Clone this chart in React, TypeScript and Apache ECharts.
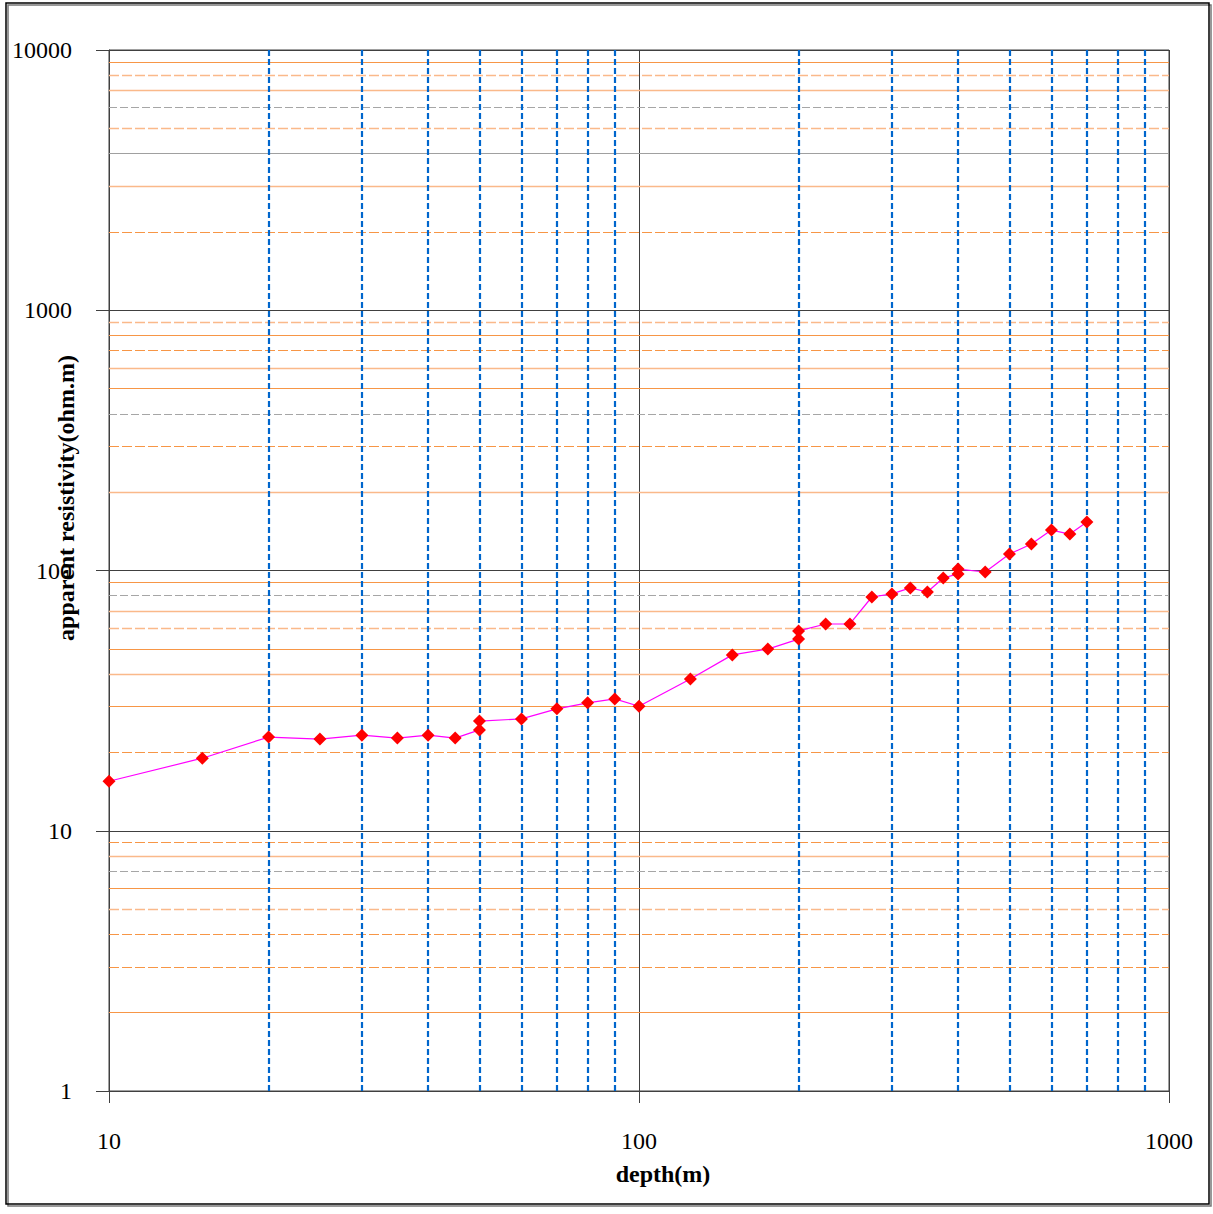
import React, { useEffect, useRef } from "react";
import * as echarts from "echarts";

const depths = [10, 15, 20, 25, 30, 35, 40, 45, 50, 50, 60, 70, 80, 90, 100, 125, 150, 175, 200, 200, 225, 250, 275, 300, 325, 350, 375, 400, 400, 450, 500, 550, 600, 650, 700];
const resistivity = [15.5, 19.0, 22.9, 22.5, 23.3, 22.7, 23.3, 22.7, 24.4, 26.4, 26.9, 29.4, 31.0, 32.1, 30.1, 38.3, 47.4, 49.9, 54.5, 58.6, 62.3, 62.3, 79.1, 81.3, 85.7, 82.7, 93.6, 97.0, 101.3, 98.7, 115.7, 126.4, 143.0, 138.0, 153.6];

const xMinorValues = [20, 30, 40, 50, 60, 70, 80, 90, 200, 300, 400, 500, 600, 700, 800, 900];
// minor horizontal lines: value and style kind
const yMinorValues = [
  9000, 8000, 7000, 6000, 5000, 4000, 3000, 2000,
  900, 800, 700, 600, 500, 400, 300, 200,
  90, 80, 70, 60, 50, 40, 30, 20,
  9, 8, 7, 6, 5, 4, 3, 2,
];
const yMinorKinds = [
  "solid", "dashLight", "solidLight", "dashGrey", "dashLight", "solidGrey", "solidLight", "dash",
  "dashLight", "solid", "dash", "solidLight", "solid", "dashGrey", "dash", "solidLight",
  "solid", "dashGrey", "solidLight", "dashLight", "solid", "solidLight", "solid", "dash",
  "dash", "solidLight", "dashGrey", "solid", "dashLight", "dash", "dash", "solid",
];
const xTickLabels = ["10", "100", "1000"];
const yTickLabels = ["1", "10", "100", "1000", "10000"];

const styleFor = (kind: string) => {
  switch (kind) {
    case "solid": return { color: "#F79646", type: "solid", width: 1 };
    case "solidLight": return { color: "#FAB98A", type: "solid", width: 1.3 };
    case "dash": return { color: "#F79646", type: [10, 3], width: 1 };
    case "dashLight": return { color: "#FAB98A", type: [10, 3], width: 1.3 };
    case "dashGrey": return { color: "#A6A6A6", type: [8, 3], width: 1 };
    case "solidGrey": return { color: "#A0A0A0", type: "solid", width: 1 };
    default: return { color: "#F79646", type: "solid", width: 1 };
  }
};

const FONT = "'Liberation Serif', 'Times New Roman', serif";

export default function App() {
  const ref = useRef<HTMLDivElement>(null);
  useEffect(() => {
    document.body.style.margin = "0";
    const chart = echarts.init(ref.current!, undefined, { renderer: "svg" });
    const hLines = yMinorValues.map((v, i) => ({ yAxis: v, lineStyle: styleFor(yMinorKinds[i]) }));
    const vLines = xMinorValues.map((v) => ({ xAxis: v, lineStyle: { color: "#0066CC", type: [6, 3], width: 2.2 } }));
    chart.setOption({
      animation: false,
      backgroundColor: "#fff",
      grid: { left: 109, top: 50, width: 1060, height: 1041, show: true, borderColor: "#404040", borderWidth: 1, backgroundColor: "transparent" },
      xAxis: {
        type: "log", logBase: 10, min: 10, max: 1000,
        axisLine: { show: true, lineStyle: { color: "#404040", width: 1 } },
        axisTick: { show: true, inside: false, length: 12, lineStyle: { color: "#404040" } },
        axisLabel: {
          margin: 38, fontFamily: FONT, fontSize: 24, color: "#000",
          formatter: (v: number) => xTickLabels.find((t) => Number(t) === Math.round(v)) ?? "",
        },
        splitLine: { show: true, lineStyle: { color: "#404040", width: 1 } },
        minorTick: { show: false }, minorSplitLine: { show: false },
      },
      yAxis: {
        type: "log", logBase: 10, min: 1, max: 10000,
        axisLine: { show: true, lineStyle: { color: "#404040", width: 1 } },
        axisTick: { show: true, inside: false, length: 13, lineStyle: { color: "#404040" } },
        axisLabel: {
          margin: 37, fontFamily: FONT, fontSize: 24, color: "#000",
          formatter: (v: number) => yTickLabels.find((t) => Number(t) === Math.round(v)) ?? "",
        },
        splitLine: { show: true, lineStyle: { color: "#404040", width: 1 } },
        minorTick: { show: false }, minorSplitLine: { show: false },
      },
      graphic: [
        { type: "rect", shape: { x: 8, y: 5, width: 1203, height: 1201 }, style: { fill: "none", stroke: "#777", lineWidth: 1.5 }, silent: true },
        { type: "rect", shape: { x: 6, y: 3, width: 1203, height: 1201 }, style: { fill: "none", stroke: "#000", lineWidth: 1.5 }, silent: true },
        {
          type: "text", x: 66, y: 498, rotation: Math.PI / 2,
          style: { text: "apparent resistivity(ohm.m)", font: `bold 24px ${FONT}`, fill: "#000", align: "center", verticalAlign: "middle" },
          z: 100,
        },
        {
          type: "text", x: 663, y: 1174,
          style: { text: "depth(m)", font: `bold 24px ${FONT}`, fill: "#000", align: "center", verticalAlign: "middle" },
        },
      ],
      series: [
        {
          type: "line", name: "grid", data: [[10, 1]], showSymbol: false, symbol: "none",
          lineStyle: { width: 0, opacity: 0 }, silent: true, z: 1,
          markLine: { silent: true, symbol: "none", label: { show: false }, data: [...hLines, ...vLines], animation: false },
        },
        {
          type: "line", name: "data",
          data: depths.map((d, i) => [d, resistivity[i]]),
          symbol: "diamond", symbolSize: 13, showSymbol: true,
          itemStyle: { color: "#FF0000" },
          lineStyle: { color: "#FF00FF", width: 1.2 },
          z: 5,
        },
      ],
    });
    return () => chart.dispose();
  }, []);
  return <div ref={ref} style={{ width: 1213, height: 1214 }} />;
}
